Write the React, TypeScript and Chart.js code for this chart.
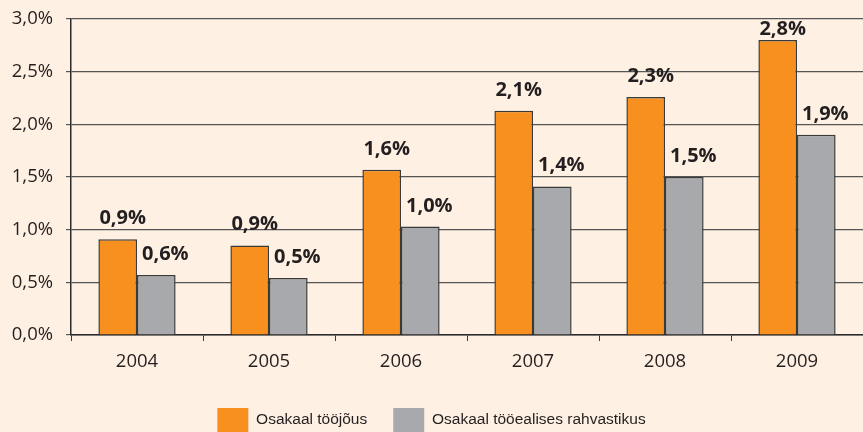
import React, { useEffect, useRef } from "react";
import { Chart, registerables } from "chart.js";

Chart.register(...registerables);

const categories = ["2004", "2005", "2006", "2007", "2008", "2009"];
const laborForceShare = [0.91, 0.85, 1.57, 2.13, 2.26, 2.8];
const workingAgeShare = [0.57, 0.54, 1.03, 1.41, 1.5, 1.9];
const laborForceLabels = ["0,9%", "0,9%", "1,6%", "2,1%", "2,3%", "2,8%"];
const workingAgeLabels = ["0,6%", "0,5%", "1,0%", "1,4%", "1,5%", "1,9%"];
const seriesNames = ["Osakaal tööjõus", "Osakaal tööealises rahvastikus"];

const BG = "#FEF1E3";
const ORANGE = "#F7901E";
const GREY = "#A7A9AC";
const INK = "#231f20";

const bgPlugin = {
  id: "bgFill",
  beforeDraw(chart: any) {
    const { ctx, width, height } = chart;
    ctx.save();
    ctx.fillStyle = BG;
    ctx.fillRect(0, 0, width, height);
    ctx.restore();
  },
};

const labelPlugin = {
  id: "valueLabels",
  afterDatasetsDraw(chart: any) {
    const { ctx, chartArea } = chart;
    const labelSets = [laborForceLabels, workingAgeLabels];
    ctx.save();
    ctx.font = "bold 20px 'Open Sans', 'DejaVu Sans', sans-serif";
    ctx.fillStyle = INK;
    ctx.textAlign = "left";
    ctx.textBaseline = "alphabetic";
    chart.data.datasets.forEach((ds: any, di: number) => {
      const meta = chart.getDatasetMeta(di);
      meta.data.forEach((bar: any, i: number) => {
        const left = bar.x - bar.width / 2 + (di === 0 ? 1 : 5);
        const y = Math.max(bar.y - 15, chartArea.top + 16);
        ctx.fillText(labelSets[di][i], left, y);
      });
    });
    ctx.restore();
  },
};

export default function App() {
  const ref = useRef<HTMLCanvasElement>(null);

  useEffect(() => {
    document.body.style.margin = "0";
    document.body.style.overflow = "hidden";
    const chart = new Chart(ref.current!, {
      type: "bar",
      data: {
        labels: categories,
        datasets: [
          {
            label: seriesNames[0],
            data: laborForceShare,
            backgroundColor: ORANGE,
            borderColor: "#3a3a3a",
            borderWidth: 1.5,
            barPercentage: 1,
            categoryPercentage: 0.585,
          },
          {
            label: seriesNames[1],
            data: workingAgeShare,
            backgroundColor: GREY,
            borderColor: "#3a3a3a",
            borderWidth: 1.5,
            barPercentage: 1,
            categoryPercentage: 0.585,
          },
        ],
      },
      options: {
        animation: false,
        responsive: false,
        maintainAspectRatio: false,
        layout: { padding: { top: 19, right: 0, left: 0, bottom: 0 } },
        plugins: {
          tooltip: { enabled: false },
          legend: {
            position: "bottom",
            labels: {
              boxWidth: 31,
              boxHeight: 24,
              padding: 26,
              color: INK,
              font: { family: "'Liberation Sans', Arial, sans-serif", size: 15.5 },
              generateLabels: (c: any) =>
                c.data.datasets.map((ds: any, i: number) => ({
                  text: ds.label,
                  fillStyle: ds.backgroundColor,
                  strokeStyle: ds.backgroundColor,
                  lineWidth: 0,
                  datasetIndex: i,
                  fontColor: INK,
                })),
            },
          },
        },
        scales: {
          x: {
            grid: {
              drawOnChartArea: false,
              drawTicks: true,
              tickLength: 6,
              color: "#3a3a3a",
              offset: true,
            },
            border: { color: "#2b2b2b", width: 1.5 },
            ticks: {
              color: INK,
              padding: 10,
              font: { family: "'Open Sans', 'Noto Sans', sans-serif", size: 18.5 },
            },
            afterFit: (s: any) => {
              s.height = 47;
              s.paddingLeft = 0;
              s.paddingRight = 0;
            },
          },
          y: {
            min: 0,
            max: 3,
            ticks: {
              stepSize: 0.5,
              color: INK,
              padding: 13,
              font: { family: "'Open Sans', 'Noto Sans', sans-serif", size: 18.5 },
              callback: (v: any) => Number(v).toFixed(1).replace(".", ",") + "%",
            },
            grid: {
              color: "#555555",
              lineWidth: 1.2,
              tickLength: 5,
            },
            border: { color: "#2b2b2b", width: 1.5 },
            afterFit: (s: any) => {
              s.width = 71;
              s.paddingTop = 0;
              s.paddingBottom = 0;
            },
          },
        },
      },
      plugins: [bgPlugin, labelPlugin],
    });
    return () => chart.destroy();
  }, []);

  return (
    <div style={{ width: 863, height: 442, overflow: "hidden" }}>
      <canvas ref={ref} width={863} height={442} style={{ display: "block" }} />
    </div>
  );
}
